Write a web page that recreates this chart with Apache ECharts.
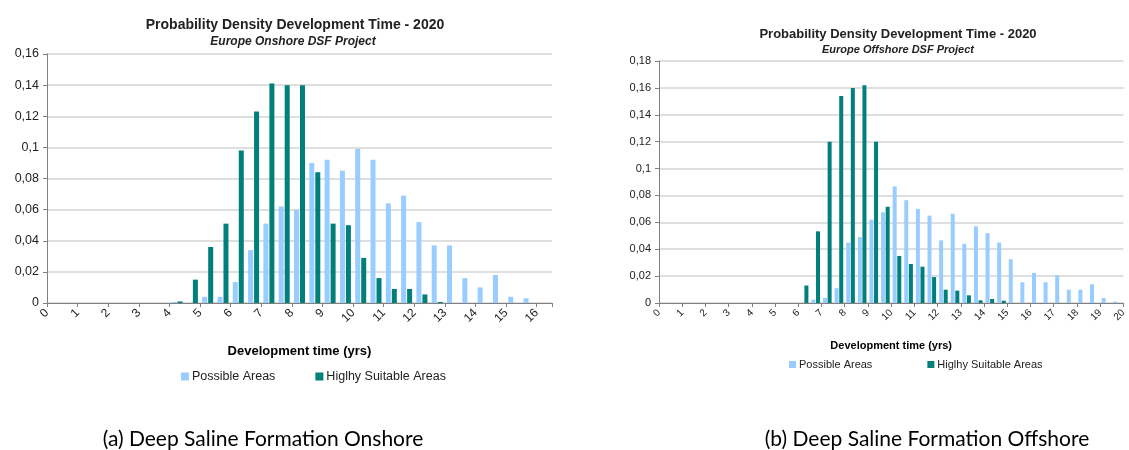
<!DOCTYPE html>
<html>
<head>
<meta charset="utf-8">
<script src="https://cdn.jsdelivr.net/npm/echarts@6/dist/echarts.min.js"></script>
<style>
  html, body { margin: 0; padding: 0; background: #fff; }
  #chart { width: 1129px; height: 450px; }
</style>
</head>
<body>
<div id="chart"></div>
<script>
// half-year bins (bin centres, yrs)
var onshoreBins = [0.25, 0.75, 1.25, 1.75, 2.25, 2.75, 3.25, 3.75, 4.25, 4.75, 5.25, 5.75, 6.25, 6.75, 7.25, 7.75,
  8.25, 8.75, 9.25, 9.75, 10.25, 10.75, 11.25, 11.75, 12.25, 12.75, 13.25, 13.75, 14.25, 14.75, 15.25, 15.75]
var onshorePossible = [0, 0, 0, 0, 0, 0, 0, 0, 0.0007, 0, 0.004, 0.004, 0.0134, 0.034, 0.051, 0.062,
  0.060, 0.090, 0.092, 0.085, 0.099, 0.092, 0.064, 0.069, 0.052, 0.037, 0.037, 0.016, 0.010, 0.018, 0.004, 0.003]
var onshoreSuitable = [0, 0, 0, 0, 0, 0, 0, 0, 0.001, 0.015, 0.036, 0.051, 0.098, 0.123, 0.141, 0.140,
  0.140, 0.084, 0.051, 0.050, 0.029, 0.016, 0.009, 0.009, 0.0055, 0.0007, 0, 0, 0, 0, 0, 0]

var offshoreBins = [0.25, 0.75, 1.25, 1.75, 2.25, 2.75, 3.25, 3.75, 4.25, 4.75, 5.25, 5.75, 6.25, 6.75, 7.25, 7.75,
  8.25, 8.75, 9.25, 9.75, 10.25, 10.75, 11.25, 11.75, 12.25, 12.75, 13.25, 13.75, 14.25, 14.75, 15.25, 15.75,
  16.25, 16.75, 17.25, 17.75, 18.25, 18.75, 19.25, 19.75]
var offshorePossible = [0, 0, 0, 0, 0, 0, 0, 0, 0, 0, 0, 0, 0, 0.0025, 0.0037, 0.011,
  0.045, 0.049, 0.062, 0.0675, 0.0867, 0.0765, 0.070, 0.065, 0.0466, 0.0664, 0.044, 0.057, 0.052, 0.045, 0.0325, 0.0154,
  0.0223, 0.0154, 0.0206, 0.0099, 0.0099, 0.0139, 0.0037, 0.001]
var offshoreSuitable = [0, 0, 0, 0, 0, 0, 0, 0, 0, 0, 0, 0, 0.013, 0.0533, 0.120, 0.154,
  0.160, 0.162, 0.120, 0.0716, 0.035, 0.029, 0.027, 0.0193, 0.0099, 0.0092, 0.0057, 0.002, 0.003, 0.0017, 0, 0,
  0, 0, 0, 0, 0, 0, 0, 0]

var seriesNames = ['Possible Areas', 'Higlhy Suitable Areas']
var colors = ['#99ccff', '#007f7b']
var font = 'Liberation Sans, Arial, sans-serif'

function pairs(xs, ys) {
  return xs.map(function (x, i) { return [x, ys[i]] })
}
function comma(v) {
  return String(v).replace('.', ',')
}

var chart = echarts.init(document.getElementById('chart'))

function xAxis(gridIndex, max, size, nameSize, nameGap) {
  return {
    type: 'value', gridIndex: gridIndex, min: 0, max: max, interval: 1,
    name: 'Development time (yrs)', nameLocation: 'middle', nameGap: nameGap,
    nameTextStyle: { fontFamily: font, fontWeight: 'bold', fontSize: nameSize, color: '#000' },
    axisLine: { lineStyle: { color: '#808080' } },
    axisTick: { length: 4, lineStyle: { color: '#808080' } },
    axisLabel: {
      rotate: 45, fontFamily: font, fontSize: size, color: '#222', margin: 8,
      formatter: function (v) { return v % 1 === 0 ? String(v) : '' }
    },
    splitLine: { show: false }
  }
}
function yAxis(gridIndex, max, size) {
  return {
    type: 'value', gridIndex: gridIndex, min: 0, max: max, interval: 0.02,
    axisLine: { show: true, lineStyle: { color: '#808080' } },
    axisTick: { show: true, length: 4, lineStyle: { color: '#808080' } },
    axisLabel: { fontFamily: font, fontSize: size, color: '#222', margin: 8, formatter: comma },
    splitLine: { lineStyle: { color: '#d4d4d4', width: 1.5 } }
  }
}
function bar(name, idx, data, color, width, gap) {
  return {
    name: name, type: 'bar', xAxisIndex: idx, yAxisIndex: idx,
    data: data, barWidth: width, barGap: gap,
    itemStyle: { color: color }, animation: false
  }
}

chart.setOption({
  textStyle: { fontFamily: font },
  title: [
    { text: 'Probability Density Development Time - 2020', left: 290, top: 13, textAlign: 'center',
      textStyle: { fontFamily: font, fontSize: 14, fontWeight: 'bold', color: '#222' } },
    { text: 'Europe Onshore DSF Project', left: 288, top: 31, textAlign: 'center',
      textStyle: { fontFamily: font, fontSize: 12, fontWeight: 'bold', fontStyle: 'italic', color: '#222' } },
    { text: 'Probability Density Development Time - 2020', left: 893, top: 23, textAlign: 'center',
      textStyle: { fontFamily: font, fontSize: 13, fontWeight: 'bold', color: '#222' } },
    { text: 'Europe Offshore DSF Project', left: 893, top: 39, textAlign: 'center',
      textStyle: { fontFamily: font, fontSize: 11, fontWeight: 'bold', fontStyle: 'italic', color: '#222' } },
    { text: '(a) Deep Saline Formation Onshore', left: 258, top: 424, textAlign: 'center',
      textStyle: { fontFamily: 'Lato, sans-serif', fontSize: 21, fontWeight: 'normal', color: '#000' } },
    { text: '(b) Deep Saline Formation Offshore', left: 922, top: 424, textAlign: 'center',
      textStyle: { fontFamily: 'Lato, sans-serif', fontSize: 21, fontWeight: 'normal', color: '#000' } }
  ],
  legend: [
    { data: seriesNames, left: 176, top: 365, icon: 'rect', itemWidth: 8, itemHeight: 8, itemGap: 40,
      textStyle: { fontFamily: font, fontSize: 12.5, color: '#222', padding: [0, 0, 0, -2] } },
    { data: seriesNames, left: 784, top: 354, icon: 'rect', itemWidth: 7, itemHeight: 7, itemGap: 55,
      textStyle: { fontFamily: font, fontSize: 11, color: '#222', padding: [0, 0, 0, -2] } }
  ],
  grid: [
    { left: 47, right: 577, top: 54, bottom: 147 },
    { left: 659, right: 4, top: 61, bottom: 147 }
  ],
  xAxis: [xAxis(0, 16.5, 12, 13, 42), xAxis(1, 20, 10, 11, 37)],
  yAxis: [yAxis(0, 0.16, 12.5), yAxis(1, 0.18, 11)],
  series: [
    bar(seriesNames[0], 0, pairs(onshoreBins, onshorePossible), colors[0], 5, '20%'),
    bar(seriesNames[1], 0, pairs(onshoreBins, onshoreSuitable), colors[1], 5, '20%'),
    bar(seriesNames[0], 1, pairs(offshoreBins, offshorePossible), colors[0], 4, '15%'),
    bar(seriesNames[1], 1, pairs(offshoreBins, offshoreSuitable), colors[1], 4, '15%')
  ]
})
</script>
</body>
</html>
